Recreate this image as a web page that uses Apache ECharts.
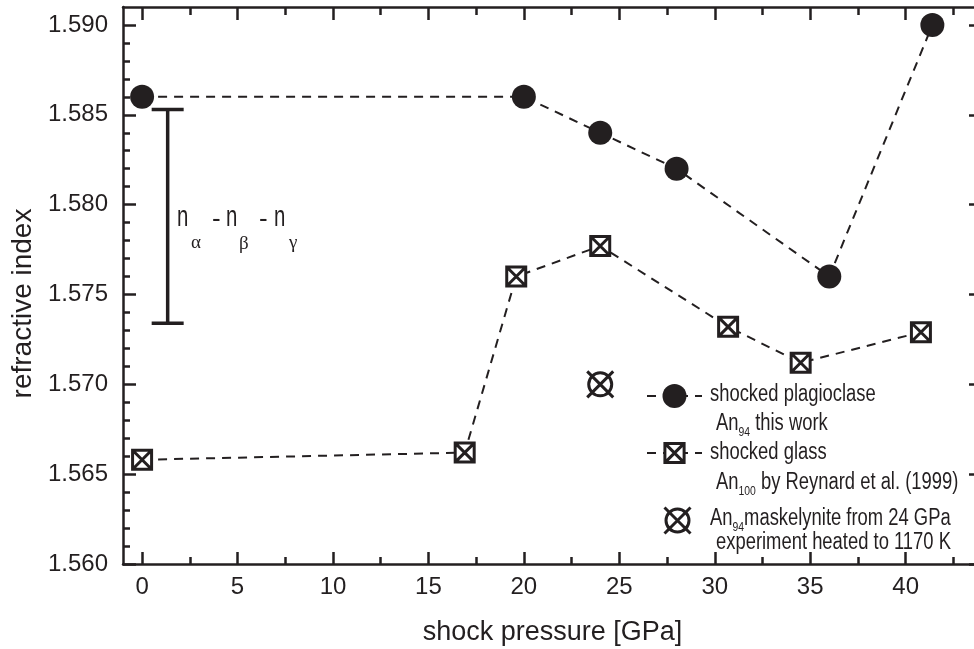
<!DOCTYPE html>
<html>
<head>
<meta charset="utf-8">
<title>refractive index vs shock pressure</title>
<script src="https://cdn.jsdelivr.net/npm/echarts@6/dist/echarts.min.js"></script>
<style>
html, body { margin: 0; padding: 0; background: #fff; }
#main { width: 974px; height: 649px; }
</style>
</head>
<body>
<div id="main"></div>
<script>
// shocked plagioclase An94, this work
var plagPressure = [0, 20, 24, 28, 36, 41.4];
var plagIndex = [1.5860, 1.5860, 1.5840, 1.5820, 1.5760, 1.5900];
// shocked glass An100, Reynard et al. (1999)
var glassPressure = [0, 16.9, 19.6, 24, 30.7, 34.5, 40.8];
var glassIndex = [1.5658, 1.5662, 1.5760, 1.5777, 1.5732, 1.5712, 1.5729];
// An94 maskelynite from the 24 GPa experiment heated to 1170 K
var maskPressure = [24];
var maskIndex = [1.5700];
// n_alpha - n_beta - n_gamma range
var rangeX = [1.34];
var rangeLow = [1.5734];
var rangeHigh = [1.5853];

// ticks
var xMajorTicks = [0, 5, 10, 15, 20, 25, 30, 35, 40];
var xMinorTicks = [2.5, 7.5, 12.5, 17.5, 22.5, 27.5, 32.5, 37.5, 42.5];
var yMajorTicks = [1.560, 1.565, 1.570, 1.575, 1.580, 1.585, 1.590];
var yMinorTicks = [1.561, 1.562, 1.563, 1.564, 1.566, 1.567, 1.568, 1.569,
                   1.571, 1.572, 1.573, 1.574, 1.576, 1.577, 1.578, 1.579,
                   1.581, 1.582, 1.583, 1.584, 1.586, 1.587, 1.588, 1.589];

var ink = '#231f20';
var sans = 'Liberation Sans, Arial, sans-serif';
var serif = 'Liberation Serif, serif';

var squareX = 'path://M0,0L20,0L20,20L0,20ZM0,0L20,20M20,0L0,20';
var circleX = 'path://M0,0L26,26M26,0L0,26M24.5,13A11.5,11.5,0,1,1,1.5,13A11.5,11.5,0,1,1,24.5,13Z';

function pairs(xs, ys) {
  return xs.map(function (x, i) { return [x, ys[i]]; });
}

function xAx(pos, ticks, len, withLine, withLabels) {
  return {
    type: 'value', position: pos, min: -1, max: 44,
    axisLine: { show: withLine, onZero: false, lineStyle: { color: ink, width: 2.5 } },
    axisTick: { show: true, inside: true, length: len, customValues: ticks,
                lineStyle: { color: ink, width: 2.5 } },
    axisLabel: withLabels ? { customValues: ticks, color: ink, fontFamily: sans, fontSize: 24, margin: 11 }
                          : { show: false },
    splitLine: { show: false }
  };
}
function yAx(pos, ticks, len, withLine, withLabels) {
  return {
    type: 'value', position: pos, min: 1.560, max: 1.591,
    axisLine: { show: withLine, onZero: false, lineStyle: { color: ink, width: 2.5 } },
    axisTick: { show: true, inside: true, length: len, customValues: ticks,
                lineStyle: { color: ink, width: 2.5 } },
    axisLabel: withLabels ? { customValues: ticks, color: ink, fontFamily: sans, fontSize: 24, margin: 15,
                              formatter: function (v) { return v.toFixed(3); } }
                          : { show: false },
    splitLine: { show: false }
  };
}

var xMain = xAx('bottom', xMajorTicks, 12, true, true);
xMain.name = 'shock pressure [GPa]';
xMain.nameLocation = 'middle';
xMain.nameGap = 55;
xMain.nameTextStyle = { color: ink, fontFamily: sans, fontSize: 27 };

var yMain = yAx('left', yMajorTicks, 13, true, true);
yMain.name = 'refractive index';
yMain.nameLocation = 'middle';
yMain.nameGap = 76;
yMain.nameTextStyle = { color: ink, fontFamily: sans, fontSize: 28, padding: [0, 36, 0, 0] };

// legend captions, squeezed like the condensed face of the original
function caption(x, y, text) {
  return {
    type: 'text', x: x, y: y, scaleX: 0.8,
    style: {
      text: text, fill: ink, fontFamily: sans, fontSize: 23, verticalAlign: 'middle',
      rich: {
        a: { fontFamily: sans, fontSize: 23, fill: ink },
        s: { fontFamily: sans, fontSize: 13, fill: ink, padding: [17, 0, 0, 0] }
      }
    }
  };
}
function glyph(x, y, text, font, size, sx) {
  return {
    type: 'text', x: x, y: y, scaleX: sx,
    style: { text: text, fill: ink, fontFamily: font, fontSize: size, verticalAlign: 'middle' }
  };
}

var chart = echarts.init(document.getElementById('main'));

var option = {
  animation: false,
  backgroundColor: '#fff',
  grid: { left: 123, top: 7, width: 859, height: 557, outerBoundsMode: 'none' },
  xAxis: [
    xMain,
    xAx('bottom', xMinorTicks, 7, false, false),
    xAx('top', xMajorTicks, 13, true, false),
    xAx('top', xMinorTicks, 8, false, false)
  ],
  yAxis: [
    yMain,
    yAx('left', yMinorTicks, 7, false, false),
    yAx('right', yMajorTicks, 13, true, false),
    yAx('right', yMinorTicks, 7, false, false)
  ],
  legend: [
    { data: ['shocked plagioclase'], left: 646, top: 381, padding: 0, itemWidth: 55, itemHeight: 30,
      selectedMode: false, formatter: function () { return ''; },
      itemStyle: { borderWidth: 0 }, lineStyle: { width: 2, type: [9, 7] } },
    { data: ['shocked glass'], left: 646, top: 441, padding: 0, itemWidth: 55, itemHeight: 24,
      selectedMode: false, formatter: function () { return ''; },
      itemStyle: { borderWidth: 3 }, lineStyle: { width: 2, type: [9, 7] } },
    { data: ['maskelynite'], left: 663, top: 506, padding: 0, itemWidth: 26, itemHeight: 26,
      selectedMode: false, formatter: function () { return ''; },
      itemStyle: { borderWidth: 3 } }
  ],
  series: [
    {
      name: 'shocked plagioclase', type: 'line', data: pairs(plagPressure, plagIndex),
      symbol: 'circle', symbolSize: 24, z: 3,
      lineStyle: { color: ink, width: 2, type: [9, 7] },
      itemStyle: { color: ink }
    },
    {
      name: 'shocked glass', type: 'line', data: pairs(glassPressure, glassIndex),
      symbol: squareX, symbolSize: 19, z: 3,
      lineStyle: { color: ink, width: 2, type: [9, 7] },
      itemStyle: { color: '#fff', borderColor: ink, borderWidth: 3 }
    },
    {
      name: 'maskelynite', type: 'scatter', data: pairs(maskPressure, maskIndex),
      symbol: circleX, symbolSize: 26,
      itemStyle: { color: 'rgba(255,255,255,0)', borderColor: ink, borderWidth: 3, opacity: 1 }
    },
    {
      name: 'range', type: 'custom',
      data: rangeX.map(function (x, i) { return [x, rangeLow[i], rangeHigh[i]]; }),
      encode: { x: 0, y: [1, 2] },
      renderItem: function (params, api) {
        var hi = api.coord([api.value(0), api.value(2)]);
        var lo = api.coord([api.value(0), api.value(1)]);
        var cap = 16;
        var st = { stroke: ink, lineWidth: 3.5 };
        return {
          type: 'group',
          children: [
            { type: 'line', shape: { x1: hi[0], y1: hi[1], x2: lo[0], y2: lo[1] }, style: st },
            { type: 'line', shape: { x1: hi[0] - cap, y1: hi[1], x2: hi[0] + cap, y2: hi[1] }, style: st },
            { type: 'line', shape: { x1: lo[0] - cap, y1: lo[1], x2: lo[0] + cap, y2: lo[1] }, style: st }
          ]
        };
      }
    }
  ],
  graphic: [
    // n_alpha - n_beta - n_gamma label
    { type: 'group', children: [
      glyph(177, 218, 'n', sans, 30, 0.68),
      glyph(191, 243, 'α', serif, 19, 1),
      glyph(212, 220, '-', sans, 26, 1),
      glyph(226, 218, 'n', sans, 30, 0.68),
      glyph(239, 244, 'β', serif, 19, 1),
      glyph(259, 220, '-', sans, 26, 1),
      glyph(274, 218, 'n', sans, 30, 0.68),
      glyph(289, 243, 'γ', serif, 19, 1)
    ] },
    caption(710, 395, 'shocked plagioclase'),
    caption(716, 424, '{a|An}{s|94}{a| this work}'),
    caption(710, 453, 'shocked glass'),
    caption(716, 483, '{a|An}{s|100}{a| by Reynard et al. (1999)}'),
    caption(710, 519, '{a|An}{s|94}{a|maskelynite from 24 GPa}'),
    caption(716, 543, 'experiment heated to 1170 K')
  ]
};

chart.setOption(option);
</script>
</body>
</html>
